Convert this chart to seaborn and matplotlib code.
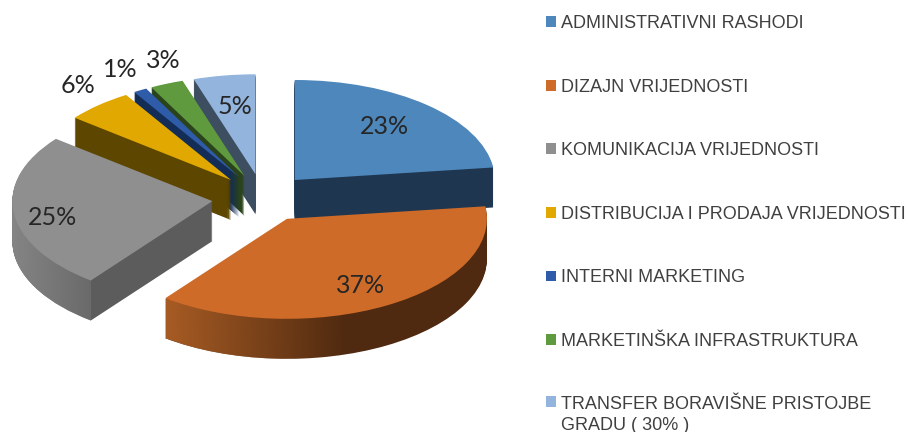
import numpy as np
import matplotlib
matplotlib.use("Agg")
import matplotlib.pyplot as plt
from matplotlib.path import Path
from matplotlib.patches import PathPatch
from matplotlib.colors import to_rgb
import seaborn as sns

# data
categories = [
    "ADMINISTRATIVNI RASHODI",
    "DIZAJN VRIJEDNOSTI",
    "KOMUNIKACIJA VRIJEDNOSTI",
    "DISTRIBUCIJA I PRODAJA VRIJEDNOSTI",
    "INTERNI MARKETING",
    "MARKETINŠKA INFRASTRUKTURA",
    "TRANSFER BORAVIŠNE PRISTOJBE\nGRADU ( 30% )",
]
shares = [23.0, 37.4, 25.3, 5.5, 1.1, 2.7, 5.0]

# colours
top_colors = ["#4e87bb", "#ce6b28", "#8f8f8f", "#e0a800", "#2f5ca8", "#5f9a3e", "#92b4dd"]
wall_colors = ["#1f3650", "#4f2a10", "#5c5c5c", "#5c4600", "#142d56", "#2a431b", "#3d4e60"]

# style
draw_order = [6, 5, 4, 3, 0, 2, 1]  # back to front
explode = [0.24, 0.24, 0.255, 0.24, 0.24, 0.24, 0.24]
depth = 0.40
label_dx = [0.45, 0.37, -0.80, -0.767, -0.595, -0.405, -0.105]
label_dy = [0.53, -0.67, -0.165, 0.945, 1.08, 1.15, 0.68]
# lit part of the curved walls: slice index -> (light colour, left, right, alpha at right end)
wall_shade = {1: ("#a85c24", -0.61, 0.30, 0.0), 2: ("#858585", -1.0, -0.61, 0.35)}

sns.set_theme(style="white")

fig = plt.figure(figsize=(9.08, 4.32), dpi=100)
ax = fig.add_axes([0, 0, 1, 1])

# stacked pies make the extruded body, one layer per pixel of depth
layers = np.linspace(depth, 0.01, 40)
wall_paths = {i: [] for i in range(len(shares))}
for n, d in enumerate(layers):
    wedges, _ = ax.pie(
        shares,
        explode=explode,
        startangle=90,
        counterclock=False,
        center=(0, -d),
        colors=sns.color_palette(wall_colors),
        wedgeprops={"linewidth": 0},
    )
    for i, w in enumerate(wedges):
        w.set_zorder(10 * draw_order.index(i) + 1 + n * 0.01)
        wall_paths[i].append(w.get_path().transformed(w.get_patch_transform()))

wedges, _, autotexts = ax.pie(
    shares,
    explode=explode,
    startangle=90,
    counterclock=False,
    colors=sns.color_palette(top_colors),
    autopct="%1.0f%%",
    wedgeprops={"linewidth": 0},
    textprops={"fontsize": 18, "family": "Lato", "color": "#262626"},
)
for i, w in enumerate(wedges):
    w.set_zorder(10 * draw_order.index(i) + 5)
    autotexts[i].set_position((w.center[0] + label_dx[i], w.center[1] + label_dy[i]))
    autotexts[i].set_zorder(100)

# horizontal light falloff on the curved walls
for i, (light, left, right, end_alpha) in wall_shade.items():
    cx, cy = wedges[i].center
    grad = np.zeros((1, 128, 4))
    grad[..., :3] = to_rgb(light)
    grad[..., 3] = np.linspace(1, end_alpha, 128)
    im = ax.imshow(grad, extent=(cx + left, cx + right, cy - 2, cy + 1), aspect="auto",
                   zorder=10 * draw_order.index(i) + 3)
    clip = PathPatch(Path.make_compound_path(*wall_paths[i]), transform=ax.transData)
    im.set_clip_path(clip)

# one unit is 200 px across and 100 px down, which squashes the pie
ax.set_aspect("auto")
ax.set_xlim(-263 / 200, (908 - 263) / 200)
ax.set_ylim((198 - 432) / 100, 198 / 100)
ax.axis("off")

leg = fig.legend(
    wedges,
    categories,
    loc="upper left",
    bbox_to_anchor=(546 / 908, 1 - 15 / 432),
    frameon=False,
    prop={"family": "Liberation Sans", "size": 13},
    labelcolor="#404040",
    handlelength=0.55,
    handleheight=0.55,
    handletextpad=0.3,
    labelspacing=2.58,
    borderpad=0,
    borderaxespad=0,
)
# two-line entry: marker sits beside the first line
leg.get_texts()[-1].set_linespacing(1.25)
last = leg.legend_handles[-1]
last.set_y(last.get_y() + 10)

fig.savefig("out.png", dpi=100)
